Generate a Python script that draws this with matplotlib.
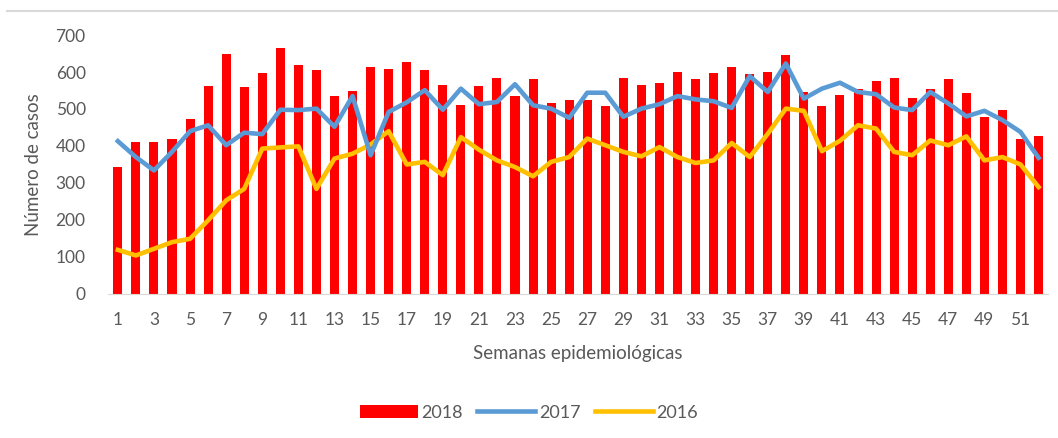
import matplotlib
matplotlib.use("Agg")
import matplotlib.pyplot as plt
from matplotlib.lines import Line2D

weeks = list(range(1, 53))

cases_2018 = [343, 412, 412, 419, 472, 561, 649, 559, 597, 665, 620, 606, 536, 548,
              614, 608, 628, 605, 566, 512, 563, 585, 535, 581, 517, 523, 523, 508,
              585, 566, 571, 601, 581, 598, 614, 594, 600, 646, 546, 508, 537, 555,
              575, 585, 531, 555, 580, 544, 479, 498, 420, 427]

cases_2017 = [413, 370, 334, 384, 440, 456, 402, 436, 432, 498, 497, 501, 452, 535,
              375, 492, 518, 551, 498, 555, 513, 519, 567, 510, 501, 476, 544, 544,
              479, 501, 513, 535, 526, 521, 503, 589, 546, 623, 528, 555, 571, 546,
              540, 504, 497, 546, 515, 480, 495, 470, 438, 368]

cases_2016 = [119, 104, 122, 140, 149, 199, 253, 284, 393, 396, 399, 284, 366, 379,
              404, 440, 350, 357, 321, 424, 390, 361, 343, 318, 357, 370, 420, 402,
              384, 372, 397, 370, 354, 361, 408, 370, 433, 501, 495, 386, 414, 456,
              447, 384, 375, 415, 402, 426, 361, 370, 350, 289]

text_color = "#595959"
plt.rcParams["font.family"] = ["Lato", "DejaVu Sans"]

fig = plt.figure(figsize=(10.58, 4.38), dpi=100)
ax = fig.add_axes([0.102, 0.329, 0.889, 0.591])

ax.bar(weeks, cases_2018, width=0.5, color="#FF0000", label="2018", zorder=1)
ax.plot(weeks, cases_2017, color="#5B9BD5", lw=3.3, label="2017", zorder=3)
ax.plot(weeks, cases_2016, color="#FFC000", lw=3.3, label="2016", zorder=2)

ax.set_xlim(0.45, 52.55)
ax.set_ylim(0, 700)
ax.set_yticks(range(0, 701, 100))
ax.set_xticks(weeks[::2])
ax.tick_params(length=0, labelsize=12.5, colors=text_color)
ax.tick_params(axis="y", pad=16)
ax.tick_params(axis="x", pad=13)

for side in ["top", "right", "left"]:
    ax.spines[side].set_visible(False)
ax.spines["bottom"].set_color("#d9d9d9")

ax.set_ylabel("Número de casos", fontsize=13.5, color=text_color, labelpad=10)
ax.set_xlabel("Semanas epidemiológicas", fontsize=13.5, color=text_color, labelpad=12)

# linea gris arriba del grafico
fig.add_artist(Line2D([0.007, 1.0], [0.975, 0.975], color="#d9d9d9", lw=1.5))

handles, labels = ax.get_legend_handles_labels()
order = [2, 0, 1]
fig.legend([handles[i] for i in order], [labels[i] for i in order],
           loc="center", bbox_to_anchor=(0.5, 0.058), ncol=3, frameon=False,
           fontsize=13, labelcolor=text_color, handlelength=3.2,
           handletextpad=0.2, columnspacing=0.8)

fig.savefig("out.png", dpi=100)
